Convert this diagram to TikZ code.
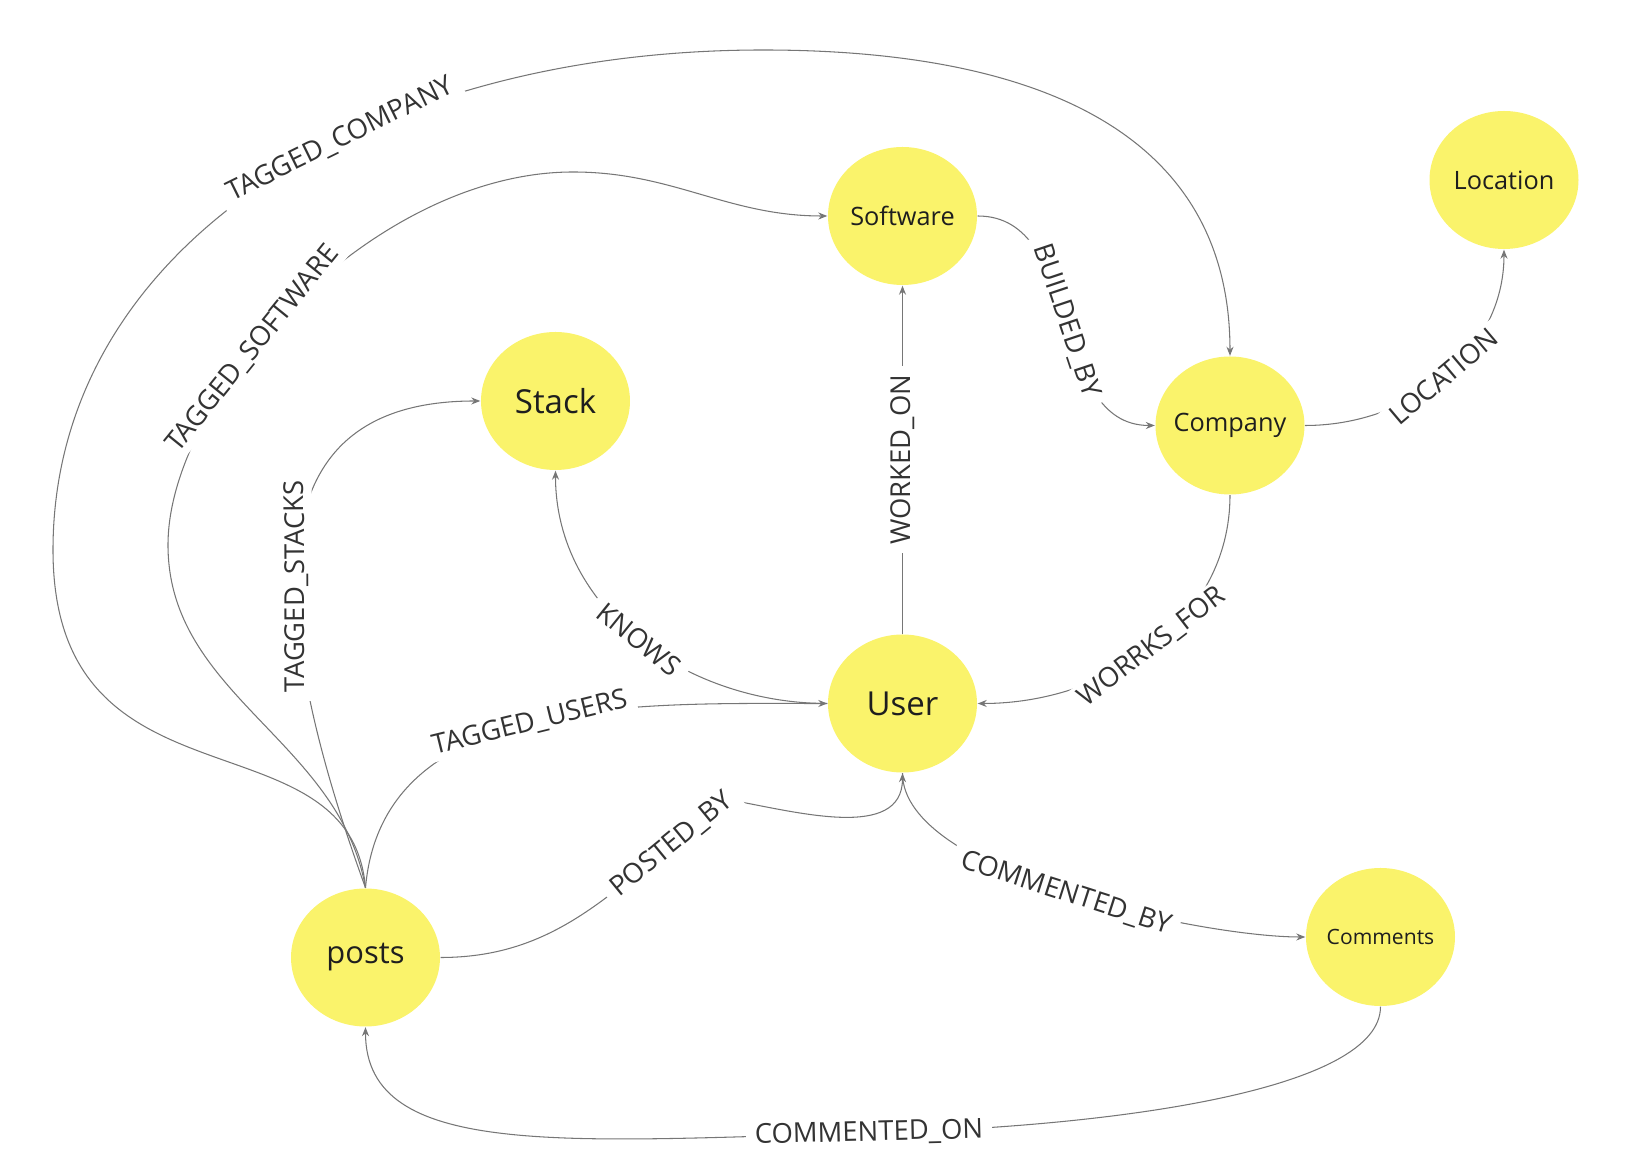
\documentclass[tikz,border=0pt]{standalone}
\usepackage{fontspec}
\setmainfont{Open Sans}
\usepackage{tikz}
\usetikzlibrary{arrows.meta, shapes.geometric}

\definecolor{nodeyellow}{HTML}{FAF36B}
\definecolor{ink}{HTML}{1E1E1E}
\definecolor{edgegray}{HTML}{767676}
\definecolor{labelgray}{HTML}{333333}

\tikzset{
  entity/.style={ellipse, fill=nodeyellow, draw=none, minimum width=1.49cm,
    minimum height=1.38cm, inner sep=-4pt, text=ink},
  bigtext/.style={font=\fontsize{9.4}{10}\selectfont},
  midtext/.style={font=\fontsize{7.2}{8}\selectfont},
  smalltext/.style={font=\fontsize{6}{7}\selectfont},
  relation/.style={draw=edgegray, line width=0.3pt, -{Stealth[length=0.9mm,width=0.7mm]}},
  rellabel/.style={sloped, fill=white, text=labelgray, inner xsep=2.5pt,
    inner ysep=1pt, font=\fontsize{7.8}{8}\selectfont},
}

\begin{document}
\begin{tikzpicture}
  \useasboundingbox (0,0) rectangle (16.5,-11.7);

  % Entities
  \node[entity, midtext] (software) at (9.025,-2.16) {Software};
  \node[entity, midtext] (location) at (15.04,-1.80) {Location};
  \node[entity, midtext] (company) at (12.30,-4.255) {Company};
  \node[entity, bigtext] (stack) at (5.555,-4.01) {Stack};
  \node[entity, bigtext] (user) at (9.025,-7.035) {User};
  \node[entity, font=\fontsize{8.8}{10}\selectfont] (posts) at (3.655,-9.575) {posts};
  \node[entity, smalltext] (comments) at (13.805,-9.37) {Comments};

  % User -> Software
  \draw[relation] (user) -- node[rellabel]{WORKED\_ON} (software);
  % Software -> Company
  \draw[relation] (software.east) to[out=0,in=180] node[rellabel]{BUILDED\_BY} (company.west);
  % Company -> Location
  \draw[relation] (company.east) to[out=0,in=-90] node[rellabel]{LOCATION} (location.south);
  % Company -> User
  \draw[relation] (company.south) to[out=-90,in=0] node[rellabel]{WORRKS\_FOR} (user.east);
  % User -> Stack
  \draw[relation] (user.west) to[out=180,in=-90] node[rellabel]{KNOWS} (stack.south);
  % posts -> User
  \draw[relation] (posts.north) to[out=85,in=180] node[rellabel]{TAGGED\_USERS} (user.west);
  \draw[relation] (posts.east) .. controls +(1.29,0) and +(-1.06,-0.74) .. (7.30,-8.00)
    node[rellabel,pos=0.8]{POSTED\_BY}
    .. controls +(0.67,-0.12) and +(0,-0.68) .. (user.south);
  % User -> Comments
  \draw[relation] (user.south) to[out=-90,in=180,looseness=0.6] node[rellabel]{COMMENTED\_BY} (comments.west);
  % Comments -> posts
  \draw[relation] (comments.south) .. controls +(0,-0.83) and +(2.48,0.06) .. (8.69,-11.33)
    node[rellabel,pos=1]{COMMENTED\_ON}
    .. controls +(-3.01,-0.08) and +(0,-1.33) .. (posts.south);
  % posts -> Stack
  \draw[relation] (posts.north) .. controls +(110:3.5) and +(-2,0) .. (stack.west)
    node[rellabel,pos=0.38,allow upside down]{TAGGED\_STACKS};
  % posts -> Software
  \draw[relation] (posts.north) .. controls +(100:1.5) and +(0,-1.5) .. (1.68,-5.45)
    .. controls +(0,1.5) and +(-2,0) .. (5.73,-1.72) node[rellabel,pos=0.4]{TAGGED\_SOFTWARE}
    .. controls +(1,0) and +(-1,0) .. (software.west);
  % posts -> Company
  \draw[relation] (posts.north) .. controls +(95:1.8) and +(0,-2.7) .. (0.53,-5.50)
    .. controls +(0,3) and +(-4,0) .. (7.63,-0.50) node[rellabel,pos=0.6]{TAGGED\_COMPANY}
    .. controls +(2.8,0) and +(0,2.2) .. (company.north);
\end{tikzpicture}
\end{document}
